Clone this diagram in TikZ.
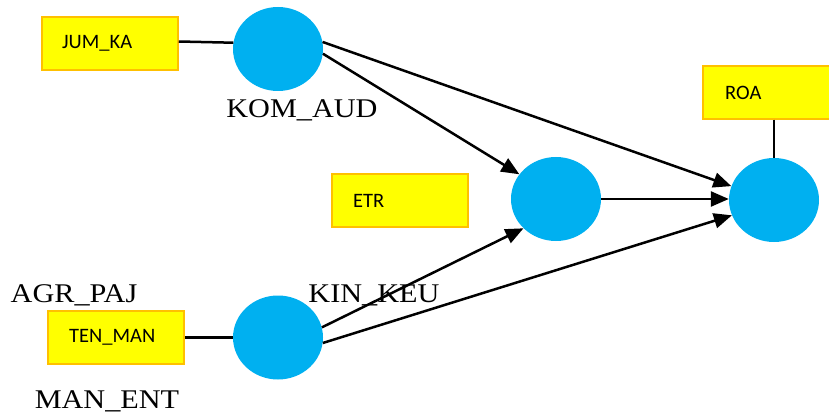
\documentclass[tikz,border=0pt]{standalone}
\usepackage{fontspec}
\setmainfont{Liberation Serif}
\newfontfamily\boxfont{Carlito}
\newfontfamily\lblfont[FakeStretch=1.12]{Liberation Serif}
\usetikzlibrary{shapes.geometric,arrows.meta}
\definecolor{lvblue}{HTML}{00B0F0}
\definecolor{indyellow}{HTML}{FFFF00}
\definecolor{indborder}{HTML}{FFC000}
\tikzset{
  latent/.style={ellipse, fill=lvblue, draw=none, minimum width=90pt, minimum height=84pt, inner sep=0pt},
  indicator/.style={rectangle, fill=indyellow, draw=indborder, line width=1.5pt, minimum width=136pt, minimum height=53pt, inner sep=0pt},
  indtext/.style={anchor=west, font=\boxfont\fontsize{20.5}{22}\selectfont, inner sep=0pt},
  lvlabel/.style={anchor=base, font=\lblfont\fontsize{27}{30}\selectfont, inner sep=0pt},
  link/.style={line width=2.5pt},
  path/.style={line width=2.5pt, -{Triangle[length=18pt,width=15pt]}}
}
\begin{document}
\begin{tikzpicture}[x=1pt, y=-1pt]
\useasboundingbox (0,0) rectangle (829,414);

% latent variables
\node[latent] (kom) at (278,49) {};
\node[latent] (kin) at (556,199) {};
\node[latent] (roa) at (774,200) {};
\node[latent] (man) at (278,337.5) {};

% indicator boxes
\node[indicator] (jum) at (110,43.5) {};
\node[indtext] at (62,43.5) {JUM\_KA};
\node[indicator] (etr) at (400,200.5) {};
\node[indtext] at (353,200.5) {ETR};
\node[indicator, minimum width=140pt] (roabox) at (773,92.5) {};
\node[indtext] at (725,92.5) {ROA};
\node[indicator] (ten) at (116,337.5) {};
\node[indtext] at (69,337.5) {TEN\_MAN};

% latent variable labels
\node[lvlabel] (lkom) at (302,118) {KOM\_AUD};
\node[lvlabel] (lagr) at (74,302) {AGR\_PAJ};
\node[lvlabel] (lkin) at (374,302) {KIN\_KEU};
\node[lvlabel] (lman) at (107,408) {MAN\_ENT};

% measurement links
\draw[link] ([yshift=2pt]jum.east) -- (kom.172);
\draw[link] (ten.east) -- (man.west);
\draw[link] (roabox.south -| roa.north) -- (roa.north);

% structural paths
\draw[path] (kom.9) -- (roa.162);
\draw[path] (kom.-6) -- (kin.146);
\draw[path] (kin.east) -- (kin.east -| roa.west);
\draw[path] (man.13) -- (kin.-138);
\draw[path] (man.-7) -- (roa.-160);
\end{tikzpicture}
\end{document}
